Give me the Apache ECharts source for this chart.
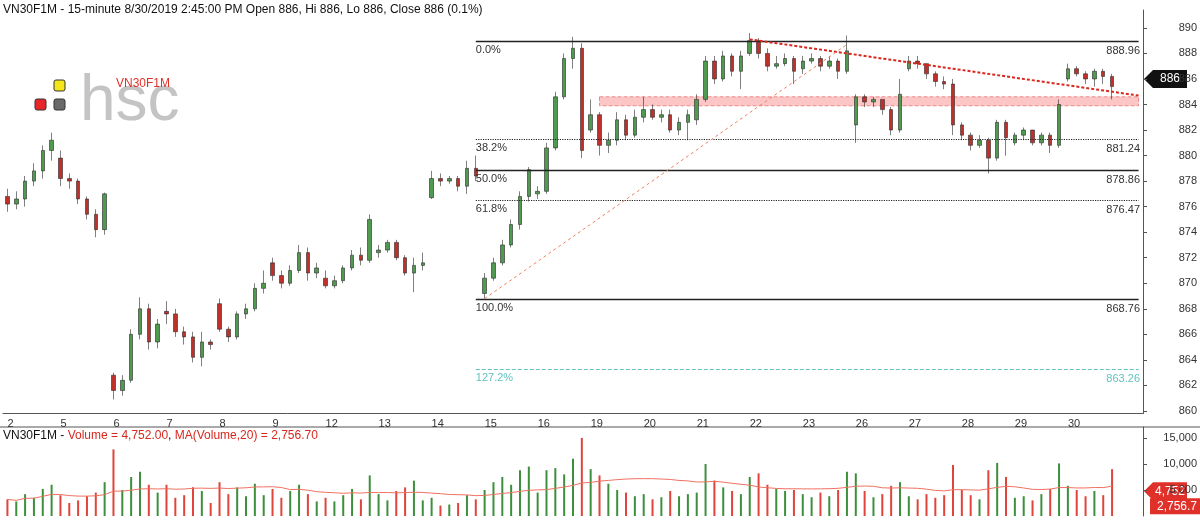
<!DOCTYPE html>
<html lang="en">
<head>
<meta charset="UTF-8">
<title>VN30F1M 15-minute</title>
<script src="https://cdn.jsdelivr.net/npm/echarts@6/dist/echarts.min.js"></script>
<style>html,body{margin:0;padding:0;background:#fff;}#main{width:1200px;height:523px;}</style>
</head>
<body>
<div id="main"></div>
<script>
// trading days shown on the x axis, 6 bars per day
var days = ['2','5','6','7','8','9','12','13','14','15','16','19','20','21','22','23','26','27','28','29','30'];
var perDay = 6;
var padBars = 3;

// [open, close, low, high]
var ohlc = [
  [876.8,876.2,875.6,877.4],[876.2,876.6,875.8,877.2],[876.6,878,876,878.4],[878,878.8,877.6,879.4],[878.8,880.4,878.2,880.8],[880.4,881.2,879.6,881.8],
  [879.8,878.2,877.6,880.4],[878.2,878,877.4,878.6],[878,876.6,876.2,878.2],[876.6,875.4,875,876.8],[875.4,874.2,873.6,875.8],[874.2,877,873.8,877.1],
  [862.8,861.6,860.9,863],[861.6,862.4,861.2,862.8],[862.4,866,862.2,866.4],[866,868,865.6,868.9],[868,865.4,864.8,868.4],[865.4,866.8,864.9,867.2],
  [867.8,867.6,866.8,868.6],[867.6,866.2,865.8,868],[866.2,865.8,865.2,866.6],[865.8,864.2,863.8,866.2],[864.2,865.4,863.5,866.2],[865.4,865.2,864.8,865.6],
  [868.4,866.4,866.2,868.8],[866.4,865.8,865.4,866.6],[865.8,867.6,865.6,867.8],[867.6,868,867.2,868.4],[868,869.6,867.8,870],[869.6,870,869.2,871],
  [871.6,870.6,870.2,872],[870.6,870,869.6,871],[870,871,869.8,871.4],[871,872.4,870.8,873],[872.4,870.8,870.2,872.8],[870.8,871.2,870.4,871.6],
  [870.4,869.8,869.6,871],[869.8,870.2,869.6,870.6],[870.2,871.2,870,871.4],[871.2,872.2,871,872.6],[872.2,871.8,871.4,872.8],[871.8,875,871.6,875.4],
  [872.4,872.6,872,873],[872.6,873.2,872.4,873.4],[873.2,872,871.8,873.4],[872,870.8,870.6,872.2],[870.8,871.4,869.3,872],[871.4,871.6,871,872.4],
  [876.7,878.2,876.6,878.8],[878.2,878,877.6,878.6],[878,878.2,877.8,878.4],[878.2,877.6,877.2,878.4],[877.6,879,877,879.6],[879,878.4,878,880],
  [869.2,870.4,868.8,870.8],[870.4,871.6,870.2,872],[871.6,873,871.4,873.4],[873,874.6,872.8,875],[874.6,876.8,874.2,877.2],[876.8,878.9,876.4,879.1],
  [877,877.2,876.6,877.6],[877.2,880.6,877,881],[880.6,884.6,880.4,885],[884.6,887.6,884.4,888],[887.6,888.4,886.8,889.3],[888.4,880.4,879.8,888.8],
  [882,883.2,881.8,884.4],[883.2,880.8,880,883.4],[880.8,881.2,880.2,881.8],[881.2,882.8,880.8,883.4],[882.8,881.6,881.2,883.2],[881.6,883,881.4,883.6],
  [883,883.6,882.6,884.6],[883.6,883,882.8,884],[883,883.2,882.6,883.6],[883.2,882,881.8,883.6],[882,882.6,881.6,883],[882.6,883.2,881.2,883.6],
  [882.8,884.4,882.4,884.8],[884.4,887.4,884.2,887.8],[887.4,886,885.6,887.8],[886,887.8,885.8,888.2],[887.8,886.6,886.2,888],[886.6,887.8,885.2,888.2],
  [888,889,887.8,889.6],[889,888,887.6,889.2],[888,887,886.6,888.4],[887,887.2,886.8,887.8],[887.2,887.6,887,888],[887.6,886.6,885.6,887.8],
  [886.8,887.4,886.4,887.8],[887.4,887.6,887.2,888],[887.6,887,886.6,887.8],[887,887.4,886.8,887.8],[887.4,886.6,886,887.6],[886.6,888.2,886.4,889.4],
  [882.4,884.6,881,884.8],[884.6,884.2,883.8,884.8],[884.2,884.4,883.8,884.6],[884.4,883.6,883.2,884.4],[883.6,882,881.6,883.8],[882,884.8,881.8,886],
  [886.8,887.4,886.6,887.8],[887.4,887.2,886.8,887.8],[887.2,886.4,886,887.2],[886.4,885.8,885.4,886.6],[885.8,885.6,885.2,886.2],[885.6,882.4,881.6,886],
  [882.4,881.6,881.2,882.6],[881.6,880.8,880.4,881.8],[880.8,881.2,880.6,881.6],[881.2,879.8,878.6,881.4],[879.8,882.6,879.6,882.8],[882.6,881.4,880,882.8],
  [881,881.6,880.8,881.8],[881.6,882,881.2,882.2],[882,881,880.8,882],[881,881.6,880.8,881.8],[881.6,880.8,880.2,881.8],[880.8,884,880.6,884.4],
  [886,886.8,885.8,887.2],[886.8,886.4,886.2,887],[886.4,886,885.6,886.6],[886,886.6,885.4,886.8],[886.6,886.2,885.6,886.8],[886.2,885.4,884.4,886.4]
];

var volume = [
  3200,2800,4200,3500,5200,6000,
  4000,2500,3000,3800,4500,6500,
  12800,5000,7500,8500,6000,4500,
  6000,3500,4000,5500,4800,2500,
  6500,4200,5500,3800,6200,4000,
  5200,3500,4800,6000,4200,2800,
  3500,2800,4000,5200,3200,7800,
  4200,3000,4800,5500,6800,3000,
  3500,2000,2200,2500,4000,3200,
  5000,6500,7500,6000,8800,9500,
  4500,8800,9200,8000,11000,15000,
  9000,7800,6200,5000,4500,3800,
  4200,3200,3600,4800,3800,4200,
  4500,10000,6800,5500,4800,4200,
  7500,8200,6000,5200,4800,5000,
  4200,3600,4500,3800,5000,8500,
  8200,4800,3600,4200,5800,6500,
  3800,3200,4200,3500,4000,9800,
  5000,4000,3200,8800,10200,7500,
  3500,3800,3000,4200,5200,10100,
  5800,5000,3800,4800,4000,9000
];

// fibonacci retracement levels
var fibPct = ['0.0%','38.2%','50.0%','61.8%','100.0%','127.2%'];
var fibVal = [888.96,881.24,878.86,876.47,868.76,863.26];
var fibStyle = ['solid','dotted','solid','dotted','solid','dashed'];
var priceTicks = [860,862,864,866,868,870,872,874,876,878,880,882,884,886,888,890];
var volTicks = [5000,10000,15000];

var GREEN = '#4f9a4f', RED = '#c0302a';
var cats = [];
for (var i = 0; i < days.length * perDay + padBars; i++) { cats.push(String(i)); }
var last = cats.length - 1;

var volData = volume.map(function (v, i) {
  return { value: v, itemStyle: { color: ohlc[i][1] >= ohlc[i][0] ? '#3d8f3d' : '#e0443a' } };
});
var ma = volume.map(function (v, i) {
  var s = 0, n = 0;
  for (var k = Math.max(0, i - 19); k <= i; k++) { s += volume[k]; n++; }
  return +(s / n).toFixed(1);
});

var fibLines = [];
fibVal.forEach(function (v, i) {
  var col = i === 5 ? '#5fc3c0' : '#222';
  var st = { color: col, type: fibStyle[i], width: i === 5 ? 1 : (fibStyle[i] === 'solid' ? 1.3 : 1.2) };
  fibLines.push([
    { coord: [53, v], lineStyle: st, label: { show: true, position: 'insideStartBottom', formatter: fibPct[i], color: i === 5 ? '#5fc3c0' : '#333', fontSize: 11, distance: [0, 3] } },
    { coord: [last, v] }
  ]);
});
fibLines.push([
  { coord: [84, 889.1], lineStyle: { color: '#d8281e', type: [3, 2], width: 2 }, label: { show: false } },
  { coord: [last, 884.7] }
]);
fibLines.push([
  { coord: [54, 868.8], lineStyle: { color: '#f08060', type: [3, 3], width: 1 }, label: { show: false } },
  { coord: [95, 888.7] }
]);

var chart = echarts.init(document.getElementById('main'));
var axisFont = { fontFamily: 'Liberation Sans', fontSize: 11, color: '#333' };
var dayTick = function (idx) { return idx % perDay === 0 && idx < days.length * perDay; };
var option = {
  animation: false,
  textStyle: { fontFamily: 'Liberation Sans' },
  grid: [
    { left: 3, right: 57, top: 10, height: 403.5 },
    { left: 3, right: 57, top: 427, bottom: 7 }
  ],
  xAxis: [
    {
      type: 'category', data: cats, gridIndex: 0, boundaryGap: true,
      axisLine: { lineStyle: { color: '#555' } },
      axisTick: { interval: dayTick, inside: true, length: 4, lineStyle: { color: '#555' } },
      axisLabel: Object.assign({ interval: dayTick, formatter: function (v, idx) { return days[idx / perDay] || ''; }, align: 'left', margin: 5 }, axisFont),
      splitLine: { show: false }
    },
    {
      type: 'category', data: cats, gridIndex: 1, boundaryGap: true,
      axisLine: { show: false }, axisTick: { show: false }, axisLabel: { show: false }
    }
  ],
  yAxis: [
    {
      type: 'value', gridIndex: 0, position: 'right', min: 859.8, max: 891.4, scale: true,
      axisLine: { show: true, lineStyle: { color: '#555' } },
      axisTick: { show: true, customValues: priceTicks, length: 4 },
      axisLabel: Object.assign({ customValues: priceTicks, margin: 54, align: 'right' }, axisFont),
      splitLine: { show: false }
    },
    {
      type: 'value', gridIndex: 1, position: 'right', min: 0, max: 17100,
      axisLine: { show: true, lineStyle: { color: '#555' } },
      axisTick: { show: true, customValues: volTicks, length: 4 },
      axisLabel: Object.assign({ customValues: volTicks, margin: 54, align: 'right', formatter: function (v) { return v.toLocaleString('en-US'); } }, axisFont),
      splitLine: { show: false }
    }
  ],
  series: [
    {
      type: 'candlestick', data: ohlc, xAxisIndex: 0, yAxisIndex: 0, barWidth: 4,
      itemStyle: { color: GREEN, color0: RED, borderColor: '#2a2a2a', borderColor0: '#2a2a2a', borderWidth: 0.6 },
      markLine: { symbol: 'none', silent: true, data: fibLines },
      markArea: {
        silent: true,
        itemStyle: { color: 'rgba(250,160,160,0.6)', borderColor: '#e88', borderType: 'dashed', borderWidth: 1 },
        data: [[{ coord: [67, 884.6] }, { coord: [last, 883.9] }]]
      }
    },
    { type: 'bar', data: volData, xAxisIndex: 1, yAxisIndex: 1, barWidth: 2 },
    { type: 'line', data: ma, xAxisIndex: 1, yAxisIndex: 1, showSymbol: false, lineStyle: { color: '#f07060', width: 1 } }
  ],
  graphic: [
    { type: 'text', left: 3, top: 4, style: { text: 'VN30F1M - 15-minute 8/30/2019 2:45:00 PM Open 886, Hi 886, Lo 886, Close 886 (0.1%)', font: '12px "Liberation Sans"', fill: '#111' } },
    { type: 'text', left: 3, top: 430, style: { text: '{a|VN30F1M - }{b|Volume = 4,752.00}{a|, }{b|MA(Volume,20) = 2,756.70}', font: '12px "Liberation Sans"', rich: { a: { fill: '#111', font: '12px "Liberation Sans"' }, b: { fill: '#d8281e', font: '12px "Liberation Sans"' } } } },
    { type: 'rect', shape: { x: 54, y: 80, width: 11, height: 11, r: 2 }, style: { fill: '#f5e61a', stroke: '#333', lineWidth: 1 } },
    { type: 'rect', shape: { x: 35, y: 99, width: 11, height: 11, r: 2 }, style: { fill: '#e8262a', stroke: '#333', lineWidth: 1 } },
    { type: 'rect', shape: { x: 54, y: 99, width: 11, height: 11, r: 2 }, style: { fill: '#6a6a6a', stroke: '#333', lineWidth: 1 } },
    { type: 'text', left: 80, top: 70, style: { text: 'hsc', font: '64px "Liberation Sans"', fill: '#c4c4c4' } },
    { type: 'text', left: 116, top: 78, style: { text: 'VN30F1M', font: '12px "Liberation Sans"', fill: '#e0302a' } },
    { type: 'line', shape: { x1: 0, y1: 427, x2: 1200, y2: 427 }, style: { stroke: '#555', lineWidth: 1 } }
  ]
};
chart.setOption(option);

// fib value labels and value badges on the right axes
var extra = [];
fibVal.forEach(function (v, i) {
  var y = chart.convertToPixel({ yAxisIndex: 0 }, v);
  extra.push({ type: 'text', x: 1140, y: y + 4, style: { text: v.toFixed(2), font: '11px "Liberation Sans"', fill: i === 5 ? '#5fc3c0' : '#333', align: 'right', verticalAlign: 'top' } });
});
function badge(y, text, bg, arrow) {
  var x = 1143;
  var els = [];
  if (arrow) {
    els.push({ type: 'polygon', shape: { points: [[x + 1, y], [x + 10, y - 9], [x + 44, y - 9], [x + 44, y + 9], [x + 10, y + 9]] }, style: { fill: bg } });
  } else {
    els.push({ type: 'rect', shape: { x: x + 7, y: y - 8, width: 50, height: 16 }, style: { fill: bg } });
  }
  els.push({ type: 'text', x: arrow ? x + 27 : x + 54, y: y, style: { text: text, font: '12px "Liberation Sans"', fill: '#fff', align: arrow ? 'center' : 'right', verticalAlign: 'middle' } });
  return els;
}
var yPrice = chart.convertToPixel({ yAxisIndex: 0 }, 886);
var yVol = chart.convertToPixel({ yAxisIndex: 1 }, 4752);
extra = extra.concat(badge(yPrice, '886', '#111', true), badge(yVol, '4,752', '#e0302a', true), badge(yVol + 15, '2,756.7', '#e0302a', false));
chart.setOption({ graphic: option.graphic.concat(extra) });
</script>
</body>
</html>
